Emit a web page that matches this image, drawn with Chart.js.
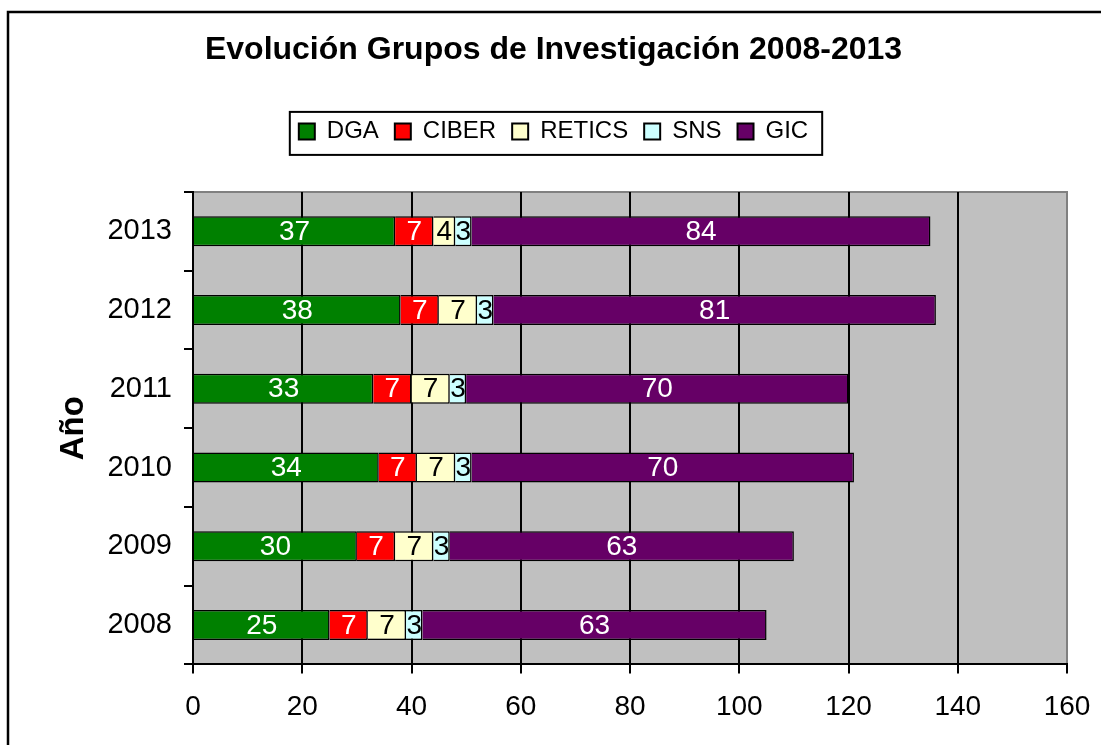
<!DOCTYPE html>
<html>
<head>
<meta charset="utf-8">
<script src="https://cdn.jsdelivr.net/npm/chart.js@4.4.1/dist/chart.umd.min.js"></script>
<style>
  html, body { margin: 0; padding: 0; background: #fff; }
  #wrap { position: relative; width: 1101px; height: 745px; }
</style>
</head>
<body>
<div id="wrap"><canvas id="grupos"></canvas></div>
<script>
// datos
const years = ['2008', '2009', '2010', '2011', '2012', '2013'];
const dga = [25, 30, 34, 33, 38, 37];
const ciber = [7, 7, 7, 7, 7, 7];
const retics = [7, 7, 7, 7, 7, 4];
const sns = [3, 3, 3, 3, 3, 3];
const gic = [63, 63, 70, 70, 81, 84];
const xTicks = [0, 20, 40, 60, 80, 100, 120, 140, 160];

const FONT = 'Arial, "Liberation Sans", sans-serif';

// fondo, marco exterior y zona gris del grafico
const framePlugin = {
    id: 'frame',
    beforeDraw(chart) {
        const c = chart.ctx;
        const a = chart.chartArea;
        c.save();
        c.fillStyle = '#fff';
        c.fillRect(0, 0, chart.width, chart.height);
        c.strokeStyle = '#000';
        c.lineWidth = 2.5;
        c.strokeRect(8, 12, chart.width + 50, chart.height + 50);
        c.fillStyle = '#c0c0c0';
        c.fillRect(a.left, a.top, a.right - a.left, a.bottom - a.top);
        c.strokeStyle = '#808080';
        c.lineWidth = 2;
        c.beginPath();
        c.moveTo(a.left, a.top);
        c.lineTo(a.right, a.top);
        c.lineTo(a.right, a.bottom);
        c.stroke();
        c.restore();
    }
};

// etiquetas de valor en el centro de cada tramo
const barLabels = {
    id: 'barLabels',
    afterDatasetsDraw(chart) {
        const c = chart.ctx;
        c.save();
        c.font = '28px ' + FONT;
        c.textAlign = 'center';
        c.textBaseline = 'middle';
        chart.data.datasets.forEach((ds, i) => {
            const meta = chart.getDatasetMeta(i);
            meta.data.forEach((bar, j) => {
                const p = bar.getProps(['x', 'y', 'base'], true);
                c.fillStyle = ds.labelColor;
                c.fillText(ds.data[j], (p.x + p.base) / 2, p.y + 1);
            });
        });
        c.restore();
    }
};

// recuadro alrededor de la leyenda
const legendBox = {
    id: 'legendBox',
    afterDraw(chart) {
        const boxes = chart.legend.legendHitBoxes;
        if (!boxes || !boxes.length) return;
        const first = boxes[0];
        const last = boxes[boxes.length - 1];
        const c = chart.ctx;
        c.save();
        c.strokeStyle = '#000';
        c.lineWidth = 2;
        c.strokeRect(first.left - 9, first.top - 7.5,
            (last.left + last.width + 14) - (first.left - 9), first.height + 19);
        c.restore();
    }
};

const ctx = document.getElementById('grupos');

new Chart(ctx, {
    type: 'bar',
    data: {
        labels: years,
        datasets: [
            { label: 'DGA', data: dga, backgroundColor: '#008000', labelColor: '#fff' },
            { label: 'CIBER', data: ciber, backgroundColor: '#ff0000', labelColor: '#fff' },
            { label: 'RETICS', data: retics, backgroundColor: '#ffffcc', labelColor: '#000' },
            { label: 'SNS', data: sns, backgroundColor: '#ccffff', labelColor: '#000' },
            { label: 'GIC', data: gic, backgroundColor: '#660066', labelColor: '#fff' }
        ]
    },
    options: {
        indexAxis: 'y',
        responsive: true,
        maintainAspectRatio: false,
        animation: false,
        datasets: {
            bar: {
                borderColor: '#000',
                borderWidth: 1.5,
                barPercentage: 0.38,
                categoryPercentage: 1
            }
        },
        layout: {
            padding: { top: 12, left: 40, right: 34, bottom: 4 }
        },
        scales: {
            x: {
                stacked: true,
                min: xTicks[0],
                max: xTicks[xTicks.length - 1],
                ticks: {
                    stepSize: xTicks[1] - xTicks[0],
                    color: '#000',
                    padding: 17,
                    font: { family: FONT, size: 28 }
                },
                grid: {
                    color: (c) => (c.tick && c.tick.value === xTicks[xTicks.length - 1]) ? '#808080' : '#000',
                    tickColor: '#000',
                    lineWidth: 2,
                    tickLength: 9
                },
                border: { color: '#000', width: 2 },
                afterFit(scale) {
                    // el margen derecho lo fija layout.padding
                    scale.paddingLeft = 0;
                    scale.paddingRight = 0;
                }
            },
            y: {
                stacked: true,
                reverse: true,
                ticks: {
                    color: '#000',
                    padding: 12,
                    font: { family: FONT, size: 29 }
                },
                grid: {
                    drawOnChartArea: false,
                    color: '#000',
                    lineWidth: 2,
                    tickLength: 9
                },
                border: { color: '#000', width: 2 },
                title: {
                    display: true,
                    text: 'Año',
                    color: '#000',
                    padding: { top: 14, bottom: 0 },
                    font: { family: FONT, size: 33, weight: 'bold' }
                },
                afterFit(scale) {
                    scale.width = 153;
                }
            }
        },
        plugins: {
            title: {
                display: true,
                text: 'Evolución Grupos de Investigación 2008-2013',
                color: '#000',
                padding: { top: 19, bottom: 34 },
                font: { family: FONT, size: 32, weight: 'bold' }
            },
            subtitle: {
                display: true,
                text: '',
                weight: 500,
                padding: 0,
                font: { family: FONT, size: 10, lineHeight: 3.85 }
            },
            legend: {
                display: true,
                position: 'top',
                labels: {
                    color: '#000',
                    boxWidth: 16,
                    boxHeight: 16,
                    padding: 16,
                    font: { family: FONT, size: 24 },
                    generateLabels(chart) {
                        const items = Chart.defaults.plugins.legend.labels.generateLabels(chart);
                        items.forEach((it) => { it.lineWidth = 2; it.strokeStyle = '#000'; });
                        return items;
                    }
                }
            },
            tooltip: { enabled: false }
        }
    },
    plugins: [framePlugin, barLabels, legendBox]
});
</script>
</body>
</html>
